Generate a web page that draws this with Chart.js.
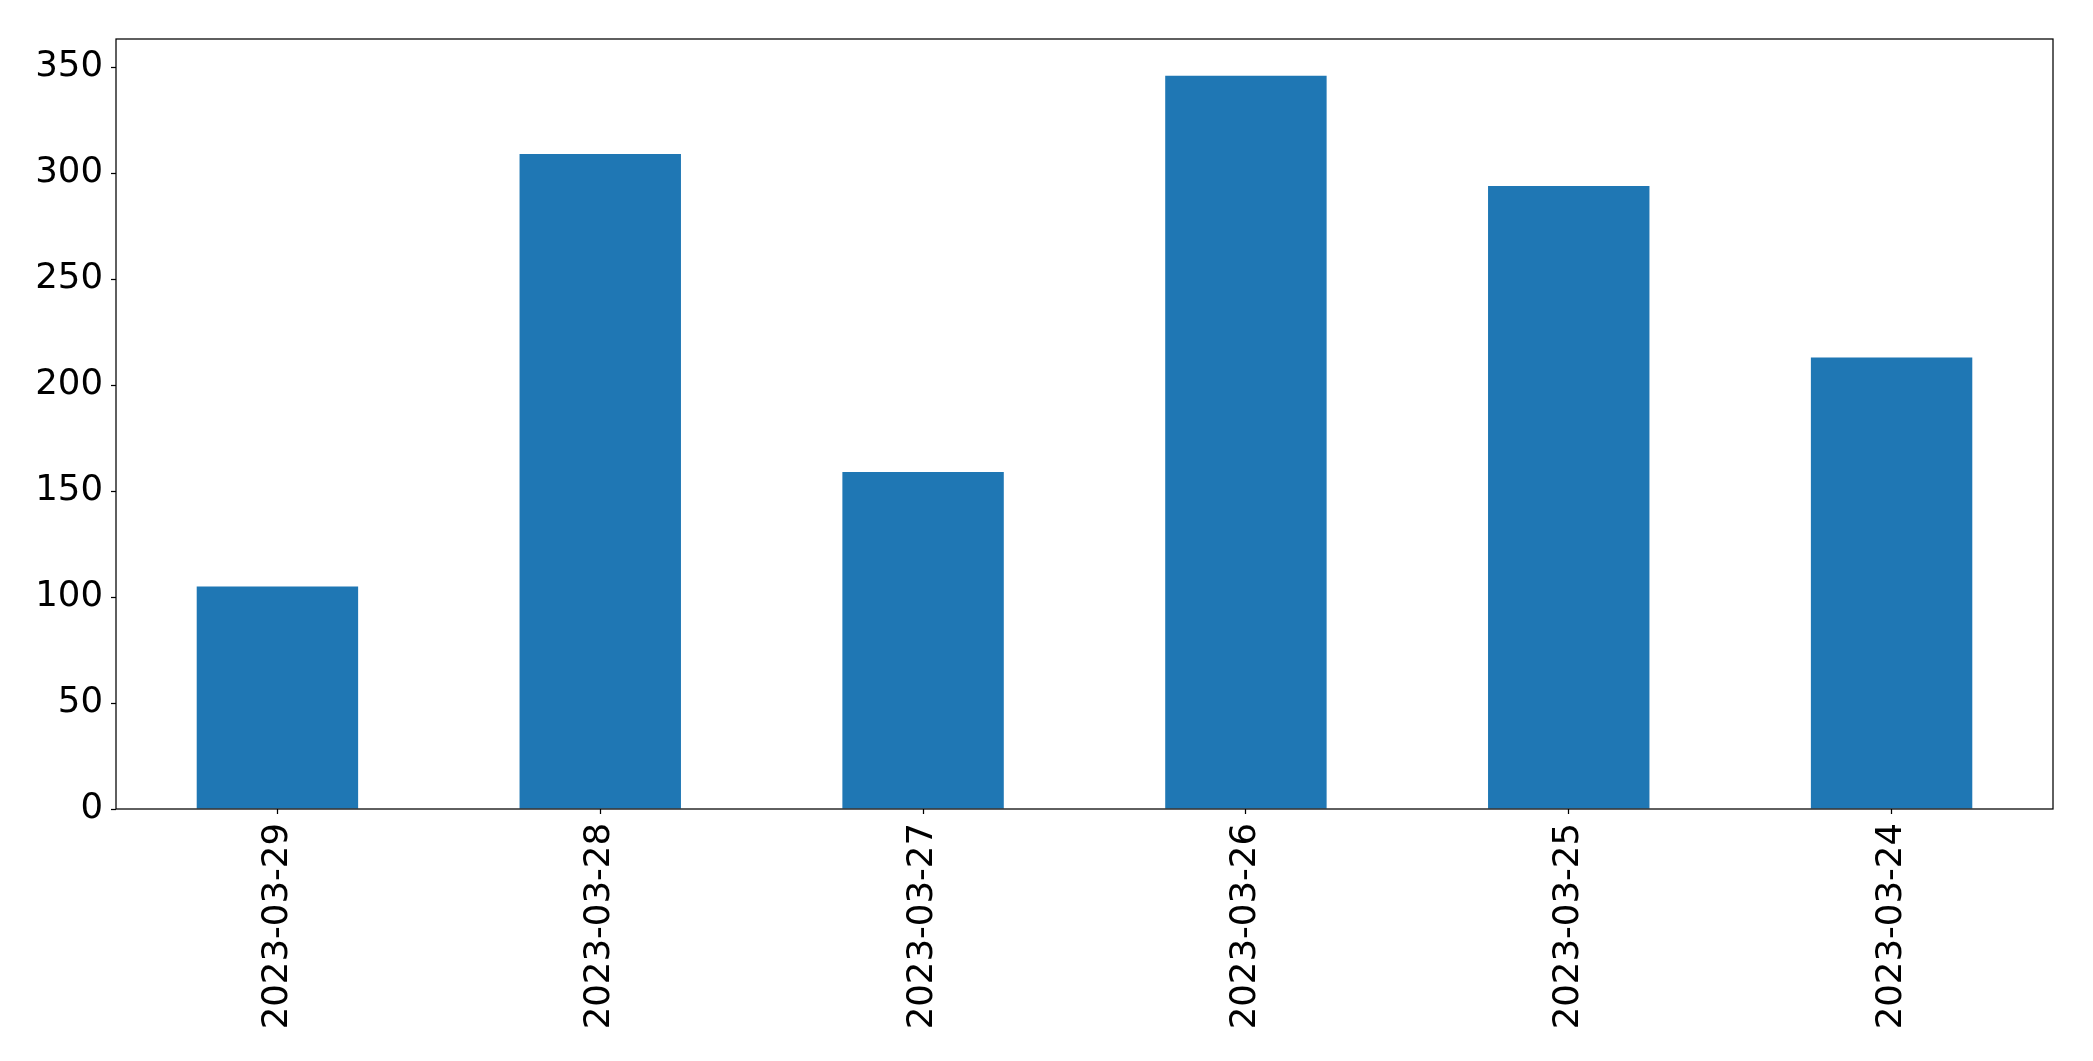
<!DOCTYPE html>
<html>
<head>
<meta charset="utf-8">
<script src="https://cdn.jsdelivr.net/npm/chart.js@4"></script>
<style>
  html, body { margin: 0; padding: 0; background: #fff; overflow: hidden; }
  canvas { display: block; }
</style>
</head>
<body>
<canvas id="chart" width="2093" height="1061"></canvas>
<script>
// data
const dates = ['2023-03-29', '2023-03-28', '2023-03-27', '2023-03-26', '2023-03-25', '2023-03-24'];
const counts = [105, 309, 159, 346, 294, 213];
const yTicks = [0, 50, 100, 150, 200, 250, 300, 350];

const BAR_COLOR = '#1f77b4';
const FONT = "'DejaVu Sans', sans-serif";

// matplotlib-style frame round the plot area
const framePlugin = {
    id: 'frame',
    afterDatasetsDraw(chart) {
        const { ctx, chartArea: a } = chart;
        ctx.save();
        ctx.strokeStyle = '#000';
        ctx.lineWidth = 1.25;
        ctx.strokeRect(a.left, a.top, a.right - a.left, a.bottom - a.top);
        ctx.restore();
    }
};

new Chart(document.getElementById('chart'), {
    type: 'bar',
    data: {
        labels: dates,
        datasets: [{
            data: counts,
            backgroundColor: BAR_COLOR,
            barPercentage: 0.5,
            categoryPercentage: 1.0
        }]
    },
    options: {
        responsive: false,
        devicePixelRatio: 1,
        animation: false,
        layout: { padding: { left: 0, top: 39, right: 40, bottom: 0 } },
        plugins: {
            legend: { display: false },
            tooltip: { enabled: false }
        },
        scales: {
            x: {
                offset: true,
                afterFit(scale) { scale.height = 252; },
                grid: {
                    drawOnChartArea: false,
                    drawTicks: true,
                    tickLength: 5,
                    tickWidth: 1.25,
                    tickColor: '#000',
                    offset: false
                },
                border: { display: false },
                ticks: {
                    autoSkip: false,
                    maxRotation: 90,
                    minRotation: 90,
                    padding: 9,
                    color: '#000',
                    font: { family: FONT, size: 35.5 }
                }
            },
            y: {
                min: 0,
                max: 363.3,
                afterFit(scale) { scale.width = 116; },
                afterBuildTicks(scale) {
                    scale.ticks = yTicks.map(v => ({ value: v }));
                },
                grid: {
                    drawOnChartArea: false,
                    drawTicks: true,
                    tickLength: 5,
                    tickWidth: 1.25,
                    tickColor: '#000'
                },
                border: { display: false },
                ticks: {
                    padding: 8,
                    color: '#000',
                    font: { family: FONT, size: 35.5 }
                }
            }
        }
    },
    plugins: [framePlugin]
});
</script>
</body>
</html>
